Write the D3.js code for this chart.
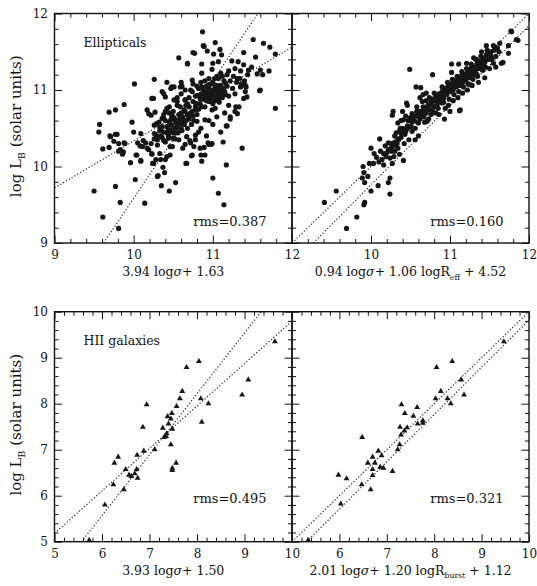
<!DOCTYPE html>
<html><head><meta charset="utf-8">
<script src="https://cdn.jsdelivr.net/npm/d3@7"></script>
<style>body{margin:0;background:#fff}svg{display:block}</style>
</head><body><svg id="c" width="537" height="586"></svg>
<script>
// ---------------- DATA ----------------
// Ellipticals: log L_B vs 3.94 log sigma + 1.63
const ellipSigma = [
[9.50,9.68],[9.61,9.34],[9.81,9.19],[9.83,9.53],[9.77,9.74],[9.57,10.55],[9.56,10.45],[9.61,10.23],[9.69,10.71],[9.77,10.74],
[9.88,10.81],[9.70,10.40],[9.77,10.42],[9.81,10.30],[9.83,10.22],[9.87,10.19],[9.89,10.30],[9.98,10.58],[10.00,10.45],[9.96,10.05],
[10.02,9.83],[10.01,11.08],[10.04,10.15],[10.08,10.27],[10.09,10.07],[10.14,9.52],[10.17,10.24],[10.12,10.34],[10.19,10.69],[10.23,10.17],
[10.24,10.04],[10.26,11.14],[10.25,10.89],[10.27,10.71],[10.31,9.88],[10.35,9.75],[10.39,9.92],[10.45,9.68],[10.53,9.79],[10.29,10.56],
[10.33,10.47],[10.29,10.39],[10.33,10.17],[10.42,10.13],[10.46,10.26],[10.44,10.37],[10.50,10.37],[10.38,10.63],[10.42,10.76],[10.50,10.65],
[10.38,10.95],[10.47,11.02],[10.55,10.85],[10.59,11.04],[10.65,10.87],[10.57,11.42],[10.68,11.35],[10.75,11.49],[10.67,10.04],[10.73,10.14],
[10.76,10.26],[10.71,10.34],[10.85,10.15],[10.86,10.07],[10.89,10.25],[10.95,10.29],[10.99,10.30],[11.00,9.85],[11.07,9.65],[11.14,9.50],
[11.17,10.02],[11.13,10.32],[11.17,10.53],[11.37,10.24],[10.87,11.76],[10.89,11.57],[10.93,11.51],[11.03,11.62],[11.01,11.47],[11.09,11.53],
[11.11,11.46],[11.24,11.38],[11.39,11.49],[11.51,11.66],[11.54,11.43],[11.64,11.61],[11.72,11.56],[11.79,11.47],[11.49,11.30],[11.56,11.21],
[11.60,11.00],[11.79,10.76],[11.43,10.91],[11.41,11.06],[11.29,10.78],[11.31,10.69],[11.22,10.65],
[10.88,11.58],[10.77,11.48],[10.68,11.34],[10.86,11.34],[11.00,11.35],[11.07,11.37],[11.32,11.37],[11.39,11.33],[11.45,11.26],[11.60,11.26],
[11.71,11.25],[11.63,11.20],[11.59,10.99],[10.99,11.27],[10.86,11.22],[10.74,11.13],[10.61,11.05],[10.51,11.04],[11.18,11.20],[11.16,11.09],
[11.31,11.15],[11.35,11.04],[11.41,10.98],[11.39,10.89],[11.33,10.78],[11.20,10.80],[11.07,10.87],[10.99,10.74],[11.18,10.53],[10.90,10.61],
[10.80,10.59],[10.69,10.65],[10.59,10.78],[10.51,10.87],[10.65,10.87],[10.90,10.98],[10.99,10.96],[11.03,11.04],[10.95,11.07],[11.12,10.98],
[10.84,10.89],[10.78,10.83],[10.74,10.98],[11.07,11.15],
[10.22,10.67],[10.36,10.63],[10.42,11.10],[10.48,11.04],[10.36,10.98],[10.40,10.91],[10.45,10.78],[10.40,10.72],[10.26,10.54],[10.33,10.51],
[10.47,10.61],[10.17,10.74],[10.23,10.89],
[9.69,10.25],[9.71,10.39],[9.79,10.42],[9.75,10.33],[9.81,10.20],[9.88,10.31],[9.86,10.16],[10.09,10.43],[10.05,10.31],[10.11,10.26],
[10.15,10.31],[10.19,10.22],[10.23,10.16],[10.03,10.15],[10.09,10.08],[10.25,10.04],[10.26,10.43],[10.34,10.48],[10.28,10.09],[10.34,10.09],
[10.40,10.09],[10.37,9.99],[10.46,10.15],[10.49,10.26],[10.30,9.87],
[10.52,10.44],[10.61,10.47],[10.67,10.39],[10.57,10.35],[10.62,10.24],[10.65,10.29],[10.72,10.31],[10.78,10.41],[10.84,10.24],[10.74,10.15],
[10.66,10.04],[10.90,10.15],[10.94,10.31],[10.98,10.29],
[10.85,10.95],[10.88,11.00],[10.90,10.92],[10.93,10.97],[10.95,11.02],[10.97,10.90],[11.00,10.94],[11.02,10.99],[11.04,10.88],[11.06,10.93],
[11.08,11.01],[11.10,10.96],[11.12,10.90],[11.05,11.06],[10.98,11.08],[10.92,11.05],[10.87,10.88],[10.95,10.85],[11.00,10.82],[11.08,10.84],
[11.15,10.98],[11.18,11.05],[11.14,11.12],[11.20,10.92],[10.82,11.02],[10.80,10.93],[10.84,10.82],[10.90,10.78],[11.03,10.76],[11.12,11.18],
[11.22,11.12],[11.25,11.02],[11.28,10.95],[11.26,11.18],[11.30,11.10],[11.34,11.15],[11.36,11.08],[11.40,11.12],[11.42,11.04],[11.44,11.20],
[11.35,11.25],[11.28,11.28],[11.20,11.25],[11.10,11.22],[11.02,11.15],[10.95,11.15],[10.90,11.12],
[10.60,10.70],[10.62,10.65],[10.65,10.72],[10.68,10.68],[10.70,10.62],[10.72,10.70],[10.75,10.66],[10.78,10.74],[10.70,10.78],[10.66,10.80],
[10.62,10.58],[10.58,10.62],[10.55,10.55],[10.52,10.50],[10.56,10.44],[10.60,10.50],[10.64,10.55],[10.68,10.50],[10.73,10.55],[10.76,10.60],
[10.80,10.68],[10.82,10.75],[10.75,10.85],[10.70,10.90],[10.78,10.92],[10.55,10.80],[10.50,10.72],[10.48,10.66],[10.45,10.58],[10.42,10.52],
[10.38,10.45],[10.36,10.38],[10.40,10.32],[10.44,10.40],[10.48,10.45],[10.52,10.36],[10.30,10.35],[10.28,10.42],[10.32,10.58],[10.38,10.68],
[10.45,10.70],[10.52,10.62],[10.55,10.90],[10.60,10.95],[10.65,11.00],[10.72,11.00],[10.80,11.05],[10.85,11.10],[10.75,11.08],[10.60,11.10],
[10.95,10.60],[11.05,10.65],[11.15,10.70],[11.22,10.62],[11.28,10.72],[11.10,10.45],[10.85,10.50],[10.92,10.40],[11.00,10.55],[10.78,10.35],
[10.82,10.45],
[10.90,10.90],[10.93,10.93],[10.96,10.88],[11.00,11.00],[11.03,10.92],[11.06,10.98],[11.09,10.92],[11.02,10.86],[10.97,10.96],[10.94,11.00],
[10.88,10.96],[10.86,11.04],[11.10,11.06],[11.13,11.02],[11.16,10.94],[11.00,11.10],[11.05,11.18],[10.92,10.86],
[10.22,10.30],[10.26,10.36],[10.30,10.28],[10.34,10.40],[10.38,10.34],[10.42,10.44],[10.46,10.48],[10.50,10.44],[10.54,10.50],[10.58,10.56],
[10.62,10.62],[10.66,10.60],[10.70,10.66],[10.74,10.72],[10.78,10.78],[10.82,10.82],[10.86,10.78],[10.64,10.74],[10.68,10.82],[10.57,10.68],
[10.53,10.58],[10.48,10.54],[10.44,10.48],[10.36,10.52],[10.40,10.60]
];
// Ellipticals: log L_B vs 0.94 log sigma + 1.06 log Reff + 4.52
const ellipFP = [
[9.41,9.53],[9.56,9.68],[9.69,9.19],[9.82,9.34],[9.91,9.50],[9.92,9.53],[9.90,10.00],[9.91,9.92],[9.89,9.85],[9.92,9.79],
[9.98,10.04],[10.03,10.04],[9.96,9.87],[10.00,9.68],[10.09,9.75],[10.24,9.85],[10.22,9.79],[10.24,9.64],[10.00,10.24],[10.04,10.17],
[10.11,10.36],[10.16,10.17],[10.14,10.09],[10.19,10.13],[10.24,10.11],[10.29,10.13],[10.27,10.04],[10.22,10.31],[10.18,10.27],[10.31,10.27],
[10.36,10.16],[10.41,10.08],[10.35,10.35],[10.32,10.44],[10.37,10.50],[10.34,10.57],[10.27,10.67],[10.28,10.72],[10.43,10.42],[10.48,10.35],
[10.46,10.53],[10.41,10.61],[10.52,10.46],[10.56,10.35],[10.60,10.40],[10.46,10.80],[10.52,10.69],[10.58,10.72],[10.60,10.57],[10.67,10.65],
[10.71,10.59],[10.65,10.85],[10.77,10.83],[10.86,10.85],[10.49,11.27],[10.78,11.20],[11.02,11.34],[11.11,11.34],[10.57,11.04],[10.63,11.03],
[11.02,11.23],[11.21,11.35],[11.46,11.58],[11.52,11.50],[11.63,11.61],[11.78,11.76],[11.86,11.65],[11.74,11.58],[11.74,11.48],[11.67,11.36],
[11.55,11.35],[11.51,11.41],[11.00,10.72],[11.12,10.73],[10.93,10.62],[10.45,10.83],[11.25,11.07],[11.32,11.20],[11.42,11.26],[10.90,10.83],
[11.13,10.74],[11.34,11.20],[11.53,11.40],[11.65,11.35],[11.84,11.66],[11.77,11.77],[11.49,11.50],
[10.62,10.72],[10.66,10.78],[10.70,10.70],[10.72,10.80],[10.75,10.74],[10.78,10.88],[10.80,10.78],[10.82,10.92],[10.84,10.82],[10.86,10.95],
[10.88,10.88],[10.90,10.98],[10.92,10.90],[10.94,11.02],[10.96,10.94],[10.98,11.06],[11.00,10.98],[11.02,11.08],[11.04,11.00],[11.06,11.12],
[11.08,11.04],[11.10,11.14],[11.12,11.06],[11.14,11.18],[11.16,11.10],[11.18,11.20],[11.20,11.12],[11.22,11.24],[11.24,11.16],[11.26,11.28],
[11.28,11.20],[11.30,11.30],[11.32,11.24],[11.34,11.34],[11.36,11.28],[11.38,11.38],[11.40,11.32],[11.42,11.42],[11.44,11.36],[11.46,11.46],
[11.48,11.40],[11.50,11.48],[11.56,11.52],[11.60,11.55],[11.62,11.50],[11.58,11.44],
[10.55,10.60],[10.58,10.66],[10.62,10.62],[10.64,10.68],[10.68,10.74],[10.70,10.86],[10.74,10.90],[10.76,10.68],[10.80,10.96],[10.83,10.86],
[10.85,10.76],[10.88,10.94],[10.90,11.04],[10.92,10.84],[10.95,10.98],[10.97,11.10],[10.99,10.88],[11.01,11.02],[11.03,11.14],[11.05,10.94],
[11.07,11.06],[11.09,11.18],[11.11,10.98],[11.13,11.10],[11.15,11.24],[11.17,11.04],[11.19,11.16],[11.21,11.28],[11.23,11.08],[11.25,11.20],
[11.27,11.34],[11.29,11.14],[11.31,11.26],[11.33,11.40],[11.35,11.18],[11.37,11.32],[11.39,11.44],[11.41,11.26],[11.43,11.36],[11.45,11.30],
[11.47,11.52],[11.52,11.44],[11.55,11.58],[11.40,11.50],[11.30,11.42],
[10.30,10.40],[10.33,10.30],[10.36,10.46],[10.38,10.38],[10.40,10.50],[10.42,10.30],[10.44,10.46],[10.47,10.60],[10.50,10.52],[10.52,10.58],
[10.54,10.66],[10.56,10.50],[10.58,10.78],[10.50,10.64],[10.44,10.66],[10.40,10.72],[10.38,10.60],[10.26,10.30],[10.22,10.22],[10.20,10.18],
[10.12,10.20],[10.26,10.20],[10.30,10.20],[10.34,10.24],[10.07,10.12],[10.10,10.06],[10.16,10.02],[10.62,10.90],[10.66,10.94],[10.70,10.96],
[10.68,10.58],[10.73,10.62],[10.78,10.72],[10.82,10.70],[10.86,10.68],[10.94,10.76],[10.98,10.80],[11.04,10.86],[11.10,10.90],[11.16,10.96],
[11.22,11.00],[11.28,11.06],[11.36,11.10],[11.44,11.16],[11.50,11.28],[11.58,11.30],
[10.70,10.76],[10.74,10.80],[10.76,10.84],[10.80,10.86],[10.84,10.90],[10.87,10.90],[10.91,10.94],[10.93,10.96],[10.97,11.00],[11.00,11.04],
[11.03,11.05],[11.06,11.08],[11.09,11.10],[11.12,11.14],[11.15,11.15],[11.18,11.14],[11.21,11.20],[11.24,11.24],[11.27,11.24],[11.30,11.26],
[11.33,11.30],[11.36,11.36],[11.39,11.36],[11.42,11.38],[11.45,11.42],[10.60,10.66],[10.64,10.72],[10.52,10.62],[10.46,10.50],[10.42,10.46],
[10.38,10.44],[10.34,10.36],[10.30,10.32],[10.26,10.25]
];
// HII galaxies: log L_B vs 3.93 log sigma + 1.50
const hiiSigma = [
[5.73,5.04],[6.06,5.81],[6.24,6.25],[6.26,6.72],[6.34,6.85],[6.46,6.14],[6.50,6.58],[6.57,6.46],[6.62,6.43],[6.69,6.49],
[6.73,6.58],[6.74,6.89],[6.75,6.39],[6.88,6.98],[6.94,7.99],[6.86,7.50],[7.11,7.01],[7.28,7.48],[7.31,7.28],[7.35,7.30],
[7.36,7.36],[7.38,7.73],[7.40,7.57],[7.45,7.68],[7.47,7.80],[7.48,7.46],[7.45,7.12],[7.48,6.61],[7.48,6.56],[7.56,6.72],
[7.57,7.95],[7.64,8.12],[7.69,8.28],[7.78,8.80],[8.04,8.93],[8.08,8.12],[8.10,7.61],[8.24,8.01],[8.95,8.20],[9.08,8.53],
[9.64,9.36]
];
// HII galaxies: log L_B vs 2.01 log sigma + 1.20 log Rburst + 1.12
const hiiFP = [
[5.34,5.04],[6.03,5.83],[5.98,6.46],[6.15,6.38],[6.47,6.25],[6.48,7.28],[6.66,6.14],[6.60,6.72],[6.70,6.85],[6.70,6.58],
[6.70,6.45],[6.75,6.72],[6.82,6.98],[6.86,6.63],[6.89,6.88],[6.93,6.61],[7.12,6.54],[7.23,7.01],[7.27,7.12],[7.28,7.50],
[7.30,7.33],[7.31,7.99],[7.37,7.42],[7.38,7.80],[7.43,7.49],[7.56,7.74],[7.64,7.93],[7.65,7.57],[7.76,7.64],[7.76,7.59],
[8.03,8.12],[8.05,8.80],[8.14,8.28],[8.28,8.12],[8.35,8.01],[8.38,8.93],[8.57,8.53],[8.63,8.20],[9.47,9.36]
];
// Fit lines (end points in data units)
const ellipSigmaFits = [[[9,9.72],[12,11.56]], [[9.62,9],[11.57,12]]];
const ellipFPFits    = [[[9,9],[12,12]], [[9.27,9],[12,11.84]]];
const hiiSigmaFits   = [[[5,5.18],[10,9.795]], [[5.57,5],[9.35,10]]];
const hiiFPFits      = [[[5,5],[10,10]], [[5.31,5],[10,9.82]]];
// Tick labels
const ellipXLabelsL = [9,10,11,12], ellipXLabelsR = [10,11,12], ellipYLabels = [9,10,11,12];
const hiiXLabelsL = [5,6,7,8,9,10], hiiXLabelsR = [6,7,8,9,10], hiiYLabels = [5,6,7,8,9,10];
const rmsTexts = ["rms=0.387","rms=0.160","rms=0.495","rms=0.321"];
const sampleNames = ["Ellipticals","HII galaxies"];
const xTitles = [
  [{t:"3.94 log"},{t:"σ",it:true},{t:"+ 1.63"}],
  [{t:"0.94 log"},{t:"σ",it:true},{t:"+ 1.06 logR"},{t:"eff",sub:true},{t:" + 4.52"}],
  [{t:"3.93 log"},{t:"σ",it:true},{t:"+ 1.50"}],
  [{t:"2.01 log"},{t:"σ",it:true},{t:"+ 1.20 logR"},{t:"burst",sub:true},{t:" + 1.12"}]
];
const yTitle = [{t:"log L"},{t:"B",sub:true},{t:" (solar units)"}];

// ---------------- LAYOUT ----------------
const FONT = "'DejaVu Serif', 'Liberation Serif', serif";
const INK = "#161616";
const panels = [
 {x0:54.5,x1:292,y0:13.5,y1:243,xd:[9,12],yd:[9,12],pts:ellipSigma,sym:"circle",fits:ellipSigmaFits,xl:ellipXLabelsL,yl:ellipYLabels,title:xTitles[0],rms:rmsTexts[0],rmsY:226,name:sampleNames[0]},
 {x0:292,x1:529,y0:13.5,y1:243,xd:[9,12],yd:[9,12],pts:ellipFP,sym:"circle",fits:ellipFPFits,xl:ellipXLabelsR,yl:null,title:xTitles[1],rms:rmsTexts[1],rmsY:226,name:null},
 {x0:54.5,x1:292,y0:311.7,y1:541.7,xd:[5,10],yd:[5,10],pts:hiiSigma,sym:"tri",fits:hiiSigmaFits,xl:hiiXLabelsL,yl:hiiYLabels,title:xTitles[2],rms:rmsTexts[2],rmsY:503,name:sampleNames[1]},
 {x0:292,x1:529,y0:311.7,y1:541.7,xd:[5,10],yd:[5,10],pts:hiiFP,sym:"tri",fits:hiiFPFits,xl:hiiXLabelsR,yl:null,title:xTitles[3],rms:rmsTexts[3],rmsY:503,name:null}
];

const svg = d3.select("#c");

function rich(sel, parts, size){
  let shift = 0;
  parts.forEach(p=>{
    const ts = sel.append("tspan").text(p.t);
    if(p.it) ts.attr("font-style","italic");
    if(p.sub){ ts.attr("font-size", size*0.62).attr("dy", size*0.28); shift = size*0.28; }
    else if(shift){ ts.attr("dy", -shift); shift = 0; }
  });
}

panels.forEach((p,i)=>{
  const x = d3.scaleLinear().domain(p.xd).range([p.x0,p.x1]);
  const y = d3.scaleLinear().domain(p.yd).range([p.y1,p.y0]);
  const g = svg.append("g");
  const cid = "clip"+i;
  svg.append("clipPath").attr("id",cid).append("rect")
     .attr("x",p.x0).attr("y",p.y0).attr("width",p.x1-p.x0).attr("height",p.y1-p.y0);

  // fit lines
  const line = d3.line().x(d=>x(d[0])).y(d=>y(d[1]));
  g.append("g").attr("clip-path",`url(#${cid})`).selectAll("path").data(p.fits).join("path")
    .attr("d",line).attr("fill","none").attr("stroke","#222").attr("stroke-width",1.2)
    .attr("stroke-dasharray","1.2,2.1");

  // points
  const pg = g.append("g").attr("clip-path",`url(#${cid})`);
  if(p.sym==="circle"){
    pg.selectAll("circle").data(p.pts).join("circle")
      .attr("cx",d=>x(d[0])).attr("cy",d=>y(d[1])).attr("r",2.6).attr("fill",INK);
  } else {
    const tri = d3.symbol().type(d3.symbolTriangle).size(15);
    pg.selectAll("path").data(p.pts).join("path")
      .attr("transform",d=>`translate(${x(d[0])},${y(d[1])+0.4})`).attr("d",tri).attr("fill",INK);
  }

  // ticks (inward on all four sides)
  const step = 0.2;
  const minor = d3.range(p.xd[0], p.xd[1]+1e-9, step).filter(v=>Math.abs(v-Math.round(v))>1e-6);
  const major = d3.range(p.xd[0], p.xd[1]+1e-9, 1);
  const minorY = d3.range(p.yd[0], p.yd[1]+1e-9, step).filter(v=>Math.abs(v-Math.round(v))>1e-6);
  const majorY = d3.range(p.yd[0], p.yd[1]+1e-9, 1);
  const tickAxis = (fn, sc, vals, len, tr)=>{
    g.append("g").attr("transform",tr)
     .call(fn(sc).tickValues(vals).tickSizeInner(-len).tickSizeOuter(0).tickFormat(""))
     .call(s=>s.select(".domain").remove())
     .selectAll("line").attr("stroke","#111").attr("stroke-width",1);
  };
  [[minor,4],[major,7.5]].forEach(([v,l])=>{
    tickAxis(d3.axisBottom, x, v, l, `translate(0,${p.y1})`);
    tickAxis(d3.axisTop, x, v, l, `translate(0,${p.y0})`);
  });
  [[minorY,4],[majorY,7.5]].forEach(([v,l])=>{
    tickAxis(d3.axisLeft, y, v, l, `translate(${p.x0},0)`);
    tickAxis(d3.axisRight, y, v, l, `translate(${p.x1},0)`);
  });

  // frame
  g.append("rect").attr("x",p.x0).attr("y",p.y0).attr("width",p.x1-p.x0).attr("height",p.y1-p.y0)
    .attr("fill","none").attr("stroke","#111").attr("stroke-width",1.4);

  // tick labels
  const xa = g.append("g").attr("transform",`translate(0,${p.y1})`)
    .call(d3.axisBottom(x).tickValues(p.xl).tickSize(0).tickPadding(7.5).tickFormat(d3.format("d")));
  xa.select(".domain").remove();
  xa.attr("font-family",FONT).attr("font-size",12).selectAll("text").attr("fill","#111");
  if(p.yl){
    const ya = g.append("g").attr("transform",`translate(${p.x0},0)`)
      .call(d3.axisLeft(y).tickValues(p.yl).tickSize(0).tickPadding(6.5).tickFormat(d3.format("d")));
    ya.select(".domain").remove();
    ya.attr("font-family",FONT).attr("font-size",12).selectAll("text").attr("fill","#111");
    const yt = g.append("text").attr("font-family",FONT).attr("font-size",15).attr("fill","#111")
      .attr("text-anchor","middle")
      .attr("transform",`translate(21,${(p.y0+p.y1)/2-2}) rotate(-90)`);
    rich(yt, yTitle, 15);
  }

  // x title
  const xt = g.append("text").attr("font-family",FONT).attr("font-size",12.5).attr("fill","#111")
    .attr("text-anchor","middle").attr("x",(p.x0+p.x1)/2).attr("y",p.y1+33);
  rich(xt, p.title, 12.5);

  // rms
  g.append("text").attr("font-family",FONT).attr("font-size",13).attr("fill","#111")
    .attr("text-anchor","end").attr("x",p.x1-25.5).attr("y",p.rmsY).text(p.rms);

  // sample name
  if(p.name){
    g.append("text").attr("font-family",FONT).attr("font-size",12.5).attr("fill","#111")
      .attr("x",p.x0+29).attr("y",p.y0+33).text(p.name);
  }
});
</script></body></html>
